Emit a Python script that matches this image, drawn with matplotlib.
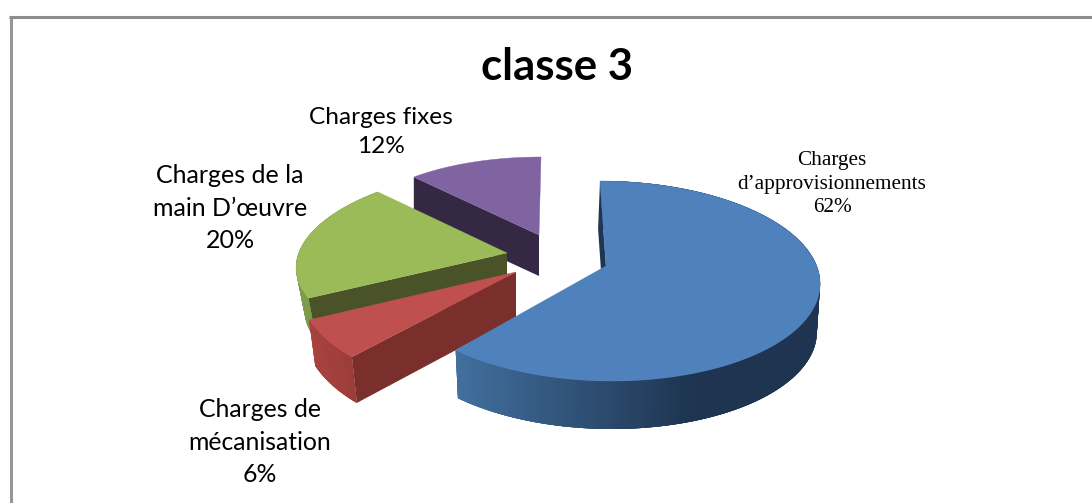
import numpy as np
import matplotlib
matplotlib.use('Agg')
import matplotlib.pyplot as plt
from matplotlib.colors import to_rgb

categories = ['Charges\nd’approvisionnements', 'Charges de\nmécanisation',
              'Charges de la\nmain D’œuvre', 'Charges fixes']
values = [62, 6, 20, 12]

# slice colours: top face, cut face, rim left colour, rim right colour
top_colors = ['#4f81bd', '#c0504d', '#9bbb59', '#8064a2']
cut_colors = ['#1f3552', '#7a2f2d', '#4a5327', '#352844']
rim_light = ['#42709f', '#a8423f', '#7f9a48', '#352844']
rim_dark = ['#1e3450', '#9c3d3a', '#7f9a48', '#352844']

# each slice was exploded and has its own perspective in the picture
# apex x, apex y, rx, ry, skew x, shift y, depth, bottom ring scale, extra end angle
geom = [(606, 266, 214, 100, -6, 15, 48, 0.985, 3),
        (516, 272, 220, 122, 18.5, -4, 46, 0.97, 0),
        (507, 253, 210, 92, 20, 6, 42, 0.96, 0),
        (539, 235, 185, 74, 2, -4, 41, 1.0, 0)]
label_pos = [(832, 184), (260, 442), (230, 208), (381, 132)]
label_fonts = ['Liberation Serif', 'Lato', 'Lato', 'Lato']
label_sizes = [15.3, 17.8, 18.0, 17.6]
label_spacing = [1.29, 1.5, 1.5, 1.5]

fig = plt.figure(figsize=(10.92, 5.03), dpi=100)
ax = fig.add_axes([0, 0, 1, 1])
ax.set_xlim(0, 1092)
ax.set_ylim(503, 0)
ax.axis('off')

# frame has only left and top side in the crop
ax.plot([10.5, 10.5], [503, 16.5], color='#969696', lw=2.2, solid_capstyle='butt')
ax.plot([9, 1092], [16.5, 16.5], color='#8c8c8c', lw=2.2, solid_capstyle='butt')


def rim_point(g, ang):
    # ang in degrees clockwise from 12 o'clock
    x0, y0, rx, ry, sx, dy = g[:6]
    u = np.sin(np.radians(ang))
    v = np.cos(np.radians(ang))
    return x0 + rx * u + sx * v, y0 + dy - ry * v


edges = np.concatenate([[0], np.cumsum(values)]) * 3.6
# painter's order: back slice first
for i in [3, 2, 1, 0]:
    g = geom[i]
    x0, y0, depth, sb, extra = g[0], g[1], g[6], g[7], g[8]
    a = np.linspace(edges[i], edges[i + 1] + extra, 200)
    xs, ys = rim_point(g, a)
    xb = x0 + (xs - x0) * sb
    yb = ys + depth

    # rim made of overlapping strips so the shade can change along x
    # purple one faces away, nothing to see of it
    c1, c2 = np.array(to_rgb(rim_light[i])), np.array(to_rgb(rim_dark[i]))
    xmin, xmax = xs.min(), min(xs.min() + 240, xs.max())
    for k in range(len(a) - 1):
        if i == 3:
            break
        m = min(k + 4, len(a) - 1)
        t = np.clip((xs[k] - xmin) / (xmax - xmin), 0, 1)
        ax.fill(np.r_[xs[k:m + 1], xb[k:m + 1][::-1]],
                np.r_[ys[k:m + 1], yb[k:m + 1][::-1]],
                color=c1 + (c2 - c1) * t, lw=0, zorder=10 + (3 - i) * 10)

    # cut face at the start of the slice
    z = 11 + (3 - i) * 10
    shift = -2 if i == 0 else 0
    ax.fill([xs[0], x0, x0 + shift, xb[0] + shift], [ys[0], y0, y0 + depth, yb[0]],
            color=cut_colors[i], lw=0, zorder=z)

    ax.fill(np.r_[x0, xs], np.r_[y0, ys], color=top_colors[i], lw=0.3, zorder=z + 1)

for cat, val, pos, fam, size, sp in zip(categories, values, label_pos, label_fonts, label_sizes, label_spacing):
    ax.text(pos[0], pos[1], cat + '\n' + str(val) + '%', ha='center', va='center',
            family=fam, fontsize=size, color='black', linespacing=sp, zorder=100)

ax.text(557, 67, 'classe 3', ha='center', va='center', family='Lato', fontweight='bold',
        fontsize=31.5, color='black', zorder=100)

fig.savefig('out.png', dpi=100)
